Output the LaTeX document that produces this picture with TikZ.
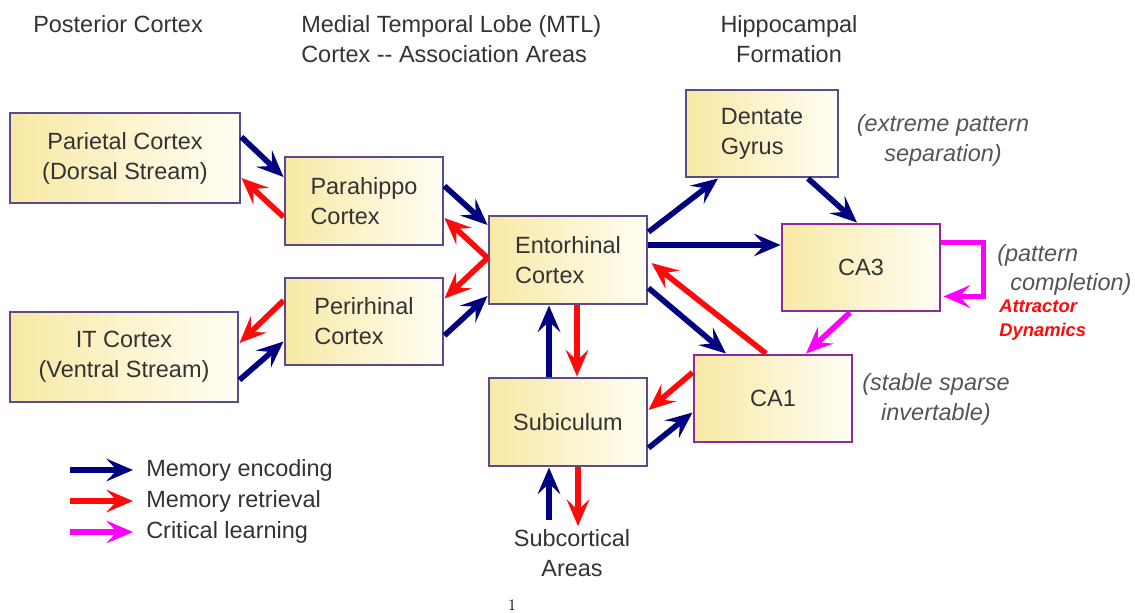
\documentclass[tikz,border=0pt]{standalone}
\usepackage{fontspec}
\usetikzlibrary{arrows.meta,calc}
\newfontfamily\arialf{Liberation Sans}
\definecolor{encblue}{HTML}{000080}
\definecolor{retred}{HTML}{FF0A0A}
\definecolor{crimag}{HTML}{FF00FF}
\definecolor{boxline}{HTML}{5B4A8E}
\definecolor{boxline2}{HTML}{8E2A9E}
\definecolor{txtgray}{HTML}{333333}
\definecolor{notegray}{HTML}{555555}
\definecolor{fillL}{HTML}{F7E9A4}
\definecolor{fillR}{HTML}{FFFEF4}
\tikzset{
  region/.style={draw=boxline, line width=2.2pt, left color=fillL, right color=fillR,
    font=\arialf\fontsize{17.6}{22.5}\selectfont, text=txtgray, inner sep=0pt},
  hipbox/.style={region, draw=boxline2},
  lbl/.style={font=\arialf\fontsize{17.6}{22.5}\selectfont, text=txtgray, inner sep=0pt},
  note/.style={font=\arialf\itshape\fontsize{17.6}{22.5}\selectfont, text=notegray, inner sep=0pt},
  arr/.style={line width=4.2pt, -{Stealth[length=20pt 0 0,width=17pt 0 0,inset=8pt]}},
  enc/.style={arr, draw=encblue},
  ret/.style={arr, draw=retred},
  cri/.style={arr, draw=crimag},
}
\begin{document}
\begin{tikzpicture}[x=0.75pt,y=-0.75pt]
\useasboundingbox (0,0) rectangle (1135,613);
% headers
\node[lbl, anchor=west] (hpost) at (33,24) {Posterior Cortex};
\node[lbl, anchor=west, align=left] (hmtl) at (301,39) {Medial Temporal Lobe (MTL)\\Cortex -- Association Areas};
\node[lbl, align=center] (hhip) at (789,39) {Hippocampal\\Formation};
% boxes
\node[region, minimum width=172.5pt, minimum height=67.5pt, align=center] (par) at (125,158) {Parietal Cortex\\(Dorsal Stream)};
\node[region, minimum width=171pt, minimum height=67.5pt, align=center] (it) at (124,357) {IT Cortex\\(Ventral Stream)};
\node[region, minimum width=118.5pt, minimum height=66pt, align=left] (php) at (364,201) {Parahippo\\Cortex};
\node[region, minimum width=118.5pt, minimum height=65.25pt, align=left] (prh) at (364,321.5) {Perirhinal\\Cortex};
\node[region, minimum width=118.5pt, minimum height=66pt, align=left] (ent) at (568,260) {Entorhinal\\Cortex};
\node[region, minimum width=118.5pt, minimum height=66pt, align=center] (sub) at (568,422) {Subiculum};
\node[region, minimum width=114pt, minimum height=65.25pt, align=left] (dg) at (762,133.5) {Dentate\\Gyrus};
\node[hipbox, minimum width=118.5pt, minimum height=65.25pt] (ca3) at (861,267.5) {CA3};
\node[hipbox, minimum width=118.5pt, minimum height=65.25pt] (ca1) at (773,398.5) {CA1};
\node[lbl, align=center] (subc) at (572,553) {Subcortical\\Areas};
% notes
\node[note, align=center] (n1) at (943,140) {(extreme pattern\\separation)};
\node[note, anchor=west] (n2a) at (997,255) {(pattern};
\node[note, anchor=west] (n2b) at (1010,284) {completion)};
\node[font=\arialf\bfseries\itshape\fontsize{13.8}{17.5}\selectfont, text=retred, align=left, anchor=west, inner sep=0pt] (n3) at (999,320) {Attractor\\Dynamics};
\node[note, align=center] (n4) at (936,399) {(stable sparse\\invertable)};
% arrows left
\draw[enc] ($(par.east)+(0,-21)$) -- ($(php.west)+(0,-24)$);
\draw[ret] ($(php.west)+(0,16)$) -- ($(par.east)+(0,20)$);
\draw[enc] ($(php.east)+(0,-15)$) -- ($(ent.west)+(0,-35)$);
\draw[ret] ($(ent.west)+(0,-2)$) -- ($(php.east)+(0,17)$);
\draw[ret] ($(ent.west)+(0,-2)$) -- ($(prh.east)+(0,-23)$);
\draw[enc] ($(prh.east)+(0,14)$) -- ($(ent.west)+(0,36)$);
\draw[ret] ($(prh.west)+(0,-21)$) -- ($(it.east)+(0,-14)$);
\draw[enc] ($(it.east)+(0,23)$) -- ($(prh.west)+(0,20)$);
% arrows right
\draw[enc] ($(ent.east)+(0,-28)$) -- ($(dg.south)+(-44,0)$);
\draw[enc] ($(ent.east)+(0,-15)$) -- ($(ca3.west)+(0,-22.5)$);
\draw[enc] ($(dg.south)+(46,0)$) -- ($(ca3.north)+(-4,0)$);
\draw[enc] ($(ent.east)+(0,28)$) -- ($(ca1.north)+(-47,0)$);
\draw[ret] ($(ca1.north)+(-7,0)$) -- ($(ent.east)+(3,3)$);
\draw[cri] ($(ca3.south)+(-11,0)$) -- ($(ca1.north)+(33,0)$);
\draw[cri] ($(ca3.east)+(0,-25)$) -| ($(ca3.east)+(42,29)$) -- ($(ca3.east)+(2,29)$);
% entorhinal - subiculum
\draw[enc] ($(sub.north)+(-19,0)$) -- ($(ent.south)+(-19,0)$);
\draw[ret] ($(ent.south)+(9,0)$) -- ($(sub.north)+(9,0)$);
\draw[ret] ($(ca1.west)+(0,-26)$) -- ($(sub.east)+(0,-12)$);
\draw[enc] ($(sub.east)+(0,26)$) -- ($(ca1.west)+(0,14)$);
\draw[enc] ($(subc.north)+(-23,-9)$) -- ($(sub.south)+(-19,0)$);
\draw[ret] ($(sub.south)+(10,0)$) -- ($(subc.north)+(6,-3)$);
% legend
\coordinate (l1a) at (70,470); \coordinate (l1b) at (133,470);
\coordinate (l2a) at (70,501); \coordinate (l2b) at (133,501);
\coordinate (l3a) at (70,532); \coordinate (l3b) at (133,532);
\draw[enc] (l1a) -- (l1b);
\draw[ret] (l2a) -- (l2b);
\draw[cri] (l3a) -- (l3b);
\node[lbl, anchor=west] (t1) at (146,470) {Memory encoding};
\node[lbl, anchor=west] (t2) at (146,501) {Memory retrieval};
\node[lbl, anchor=west] (t3) at (146,532) {Critical learning};
% page number
\node[font=\fontsize{12}{14}\selectfont, inner sep=0pt, anchor=north] (pg) at (512,600) {1};
\end{tikzpicture}
\end{document}
